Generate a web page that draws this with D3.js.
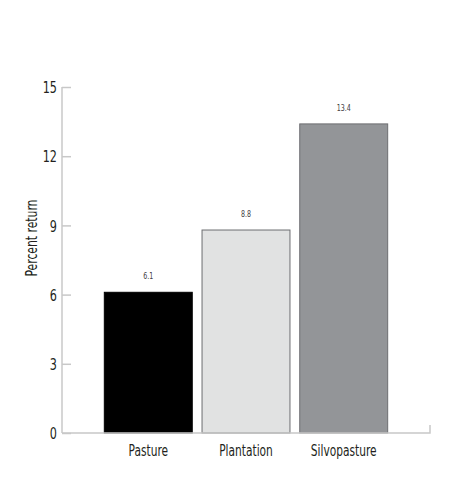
<!DOCTYPE html>
<html>
<head>
<meta charset="utf-8">
<script src="https://cdn.jsdelivr.net/npm/d3@7"></script>
<style>
  body { margin: 0; background: #fff; }
  svg text { font-family: "Liberation Sans Narrow", "DejaVu Sans Condensed", "Arial Narrow", sans-serif; font-stretch: condensed; }
</style>
</head>
<body>
<div id="chart"></div>
<script>
// chart data
const categories = ["Pasture", "Plantation", "Silvopasture"];
const values = [6.1, 8.8, 13.4];
const valueLabels = ["6.1", "8.8", "13.4"];
const yTicks = [0, 3, 6, 9, 12, 15];
const barColors = ["#000000", "#e1e2e2", "#939598"];

const width = 458, height = 480;
const margin = { top: 87, right: 28, bottom: 47, left: 62 };
const squeeze = 0.78; // the original font is a narrow condensed face

const svg = d3.select("#chart")
  .append("svg")
  .attr("width", width)
  .attr("height", height);

const x = d3.scaleBand()
  .domain(categories)
  .range([margin.left, width - margin.right])
  .paddingInner(0.1)
  .paddingOuter(0.433);

const y = d3.scaleLinear()
  .domain([0, 15])
  .range([height - margin.bottom, margin.top]);

const axisColor = "#c8c8c8";

// y axis: ticks point inward
const yAxis = svg.append("g")
  .attr("transform", `translate(${margin.left},0)`)
  .call(d3.axisRight(y).tickValues(yTicks).tickSize(9));
yAxis.select(".domain").attr("stroke", axisColor).attr("stroke-width", 1.5)
  .attr("d", `M0,${y(15)}V${y(0)}`);
yAxis.selectAll(".tick line").attr("stroke", axisColor).attr("stroke-width", 1.5);
yAxis.selectAll(".tick text")
  .attr("x", 0)
  .attr("dy", "0.36em")
  .attr("transform", `translate(-5,0) scale(${squeeze},1)`)
  .attr("text-anchor", "end")
  .attr("fill", "#231f20")
  .style("font-size", "16px");

// bars
svg.selectAll("rect.bar")
  .data(categories)
  .enter()
  .append("rect")
  .attr("class", "bar")
  .attr("x", d => x(d))
  .attr("y", (d, i) => y(values[i]))
  .attr("width", x.bandwidth())
  .attr("height", (d, i) => y(0) - y(values[i]))
  .attr("fill", (d, i) => barColors[i])
  .attr("stroke", (d, i) => i === 0 ? "#000" : "#6d6e71")
  .attr("stroke-width", 1);

// value labels
svg.selectAll("text.value")
  .data(categories)
  .enter()
  .append("text")
  .attr("class", "value")
  .attr("transform", (d, i) =>
    `translate(${x(d) + x.bandwidth() / 2},${y(values[i]) - 13}) scale(${squeeze},1)`)
  .attr("text-anchor", "middle")
  .attr("fill", "#414042")
  .style("font-size", "9px")
  .text((d, i) => valueLabels[i]);

// x axis baseline
const xEnd = width - margin.right;
svg.append("path")
  .attr("d", `M${margin.left},${y(0)}H${xEnd}V${y(0) - 8}`)
  .attr("fill", "none")
  .attr("stroke", axisColor)
  .attr("stroke-width", 1.5);

// category labels
svg.selectAll("text.cat")
  .data(categories)
  .enter()
  .append("text")
  .attr("class", "cat")
  .attr("transform", d =>
    `translate(${x(d) + x.bandwidth() / 2},${y(0) + 23}) scale(0.74,1)`)
  .attr("text-anchor", "middle")
  .attr("fill", "#231f20")
  .style("font-size", "16px")
  .text(d => d);

// y title
svg.append("text")
  .attr("transform", `translate(37,238) rotate(-90) scale(0.8,1)`)
  .attr("text-anchor", "middle")
  .attr("fill", "#231f20")
  .style("font-size", "15px")
  .text("Percent return");
</script>
</body>
</html>
